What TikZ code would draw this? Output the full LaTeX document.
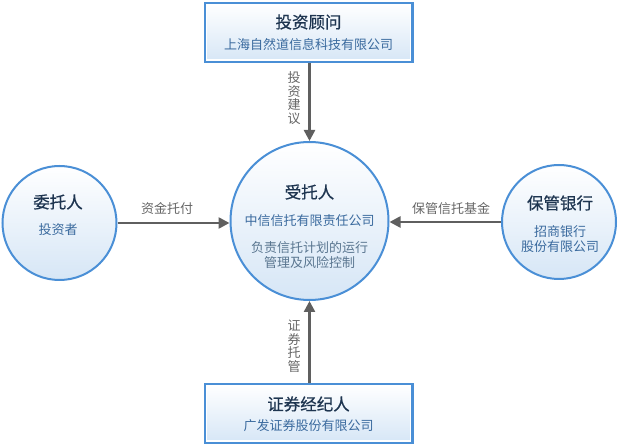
\documentclass[tikz,border=0pt]{standalone}
\usepackage{fontspec}
\setmainfont{Noto Sans CJK SC}
\newfontfamily\ttlfont[FakeBold=0.6]{Noto Sans CJK SC}
\usetikzlibrary{arrows.meta,shadings,calc}
\definecolor{bordblue}{HTML}{4A8FD6}
\definecolor{fillblue}{HTML}{D6E6F6}
\definecolor{titlecol}{HTML}{1E3550}
\definecolor{subcol}{HTML}{3A6A9E}
\definecolor{desccol}{HTML}{5A7690}
\definecolor{arrcol}{HTML}{5F5F5F}
\definecolor{labcol}{HTML}{666666}
\tikzset{
  x=1pt,y=-1pt,
  rbox/.style={draw=bordblue,line width=3pt,top color=white,bottom color=fillblue,minimum width=207pt,minimum height=58pt,inner sep=0pt},
  rcirc/.style={circle,draw=bordblue,line width=2pt,top color=white,bottom color=fillblue,inner sep=0pt},
  inring/.style={draw=white,line width=1.5pt},
  ttl/.style={text=titlecol,font=\ttlfont\fontsize{16.5}{18}\selectfont},
  sub/.style={text=subcol,font=\fontsize{13}{15.5}\selectfont},
  desc/.style={text=desccol,font=\fontsize{13}{15.5}\selectfont,align=center},
  lab/.style={text=labcol,font=\fontsize{13}{15}\selectfont},
  vlab/.style={text=labcol,font=\fontsize{13}{13.5}\selectfont,align=center},
  arr/.style={draw=arrcol,line width=2.5pt,-{Triangle[width=11pt,length=11pt]}}
}
\begin{document}
\begin{tikzpicture}
\useasboundingbox (0,0) rectangle (619,446);
% boxes
\node[rbox] (top) at (308.5,32.5) {};
\node[rbox] (bot) at (308.5,413.5) {};
\draw[inring] ($(top.north west)+(3,3)$) rectangle ($(top.south east)+(-3,-3)$);
\draw[inring] ($(bot.north west)+(3,3)$) rectangle ($(bot.south east)+(-3,-3)$);
% circles
\node[rcirc,minimum size=158pt] (mid) at (309.5,221) {};
\node[rcirc,minimum size=114pt] (left) at (59.5,223) {};
\node[rcirc,minimum size=114pt] (right) at (559,222) {};
% texts
\node[ttl] (toptitle) at (308.5,22) {投资顾问};
\node[sub] (topsub) at (308.5,45) {上海自然道信息科技有限公司};
\node[ttl] (bottitle) at (308.5,404) {证券经纪人};
\node[sub] (botsub) at (308.5,426) {广发证券股份有限公司};
\node[ttl] (midtitle) at (309.5,192) {受托人};
\node[sub] (midsub) at (309.5,221) {中信信托有限责任公司};
\node[desc] (middesc) at (309.5,255) {负责信托计划的运行\\管理及风险控制};
\node[ttl] (lefttitle) at (58,202) {委托人};
\node[sub] (leftsub) at (58,230) {投资者};
\node[ttl] (righttitle) at (560,203) {保管银行};
\node[sub,align=center] (rightsub) at (560,239) {招商银行\\股份有限公司};
% arrows
\draw[arr] (top.south -| mid.north) -- (mid.north);
\draw[arr] (bot.north -| mid.south) -- (mid.south);
\draw[arr] (left.east) -- (mid.west |- left.east);
\draw[arr] (right.west) -- (mid.east |- right.west);
% labels
\node[lab] (l1) at (167,209) {资金托付};
\node[lab] (l2) at (451,209) {保管信托基金};
\node[vlab] (l3) at (294,98) {投\\资\\建\\议};
\node[vlab] (l4) at (294,346) {证\\券\\托\\管};
\end{tikzpicture}
\end{document}
